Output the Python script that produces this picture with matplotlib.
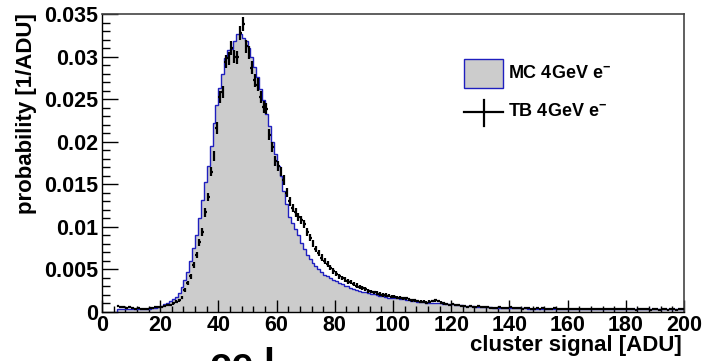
import matplotlib
matplotlib.use("Agg")
import matplotlib.pyplot as plt
import numpy as np
from matplotlib.lines import Line2D
from matplotlib.patches import Rectangle
from matplotlib.ticker import MultipleLocator

plt.rcParams['font.family'] = ['Liberation Sans', 'DejaVu Sans']
plt.rcParams['font.weight'] = 'bold'
plt.rcParams['mathtext.fontset'] = 'custom'
plt.rcParams['mathtext.rm'] = 'Liberation Sans:bold'
plt.rcParams['mathtext.bf'] = 'Liberation Sans:bold'

# 1 ADU bins from 5 to 200
bin_edges = np.arange(5, 201, 1)

# MC 4GeV e- (probability per ADU)
mc_prob = [
    0.0004, 0.0004, 0.0003, 0.0003, 0.0003,   # 5-9
    0.0003, 0.0003, 0.0003, 0.0003, 0.0003,   # 10-14
    0.0004, 0.0004, 0.0005, 0.0005, 0.0006,   # 15-19
    0.0007, 0.0009, 0.0011, 0.0013, 0.0015,   # 20-24
    0.0018, 0.0022, 0.0029, 0.0037, 0.0047,   # 25-29
    0.0060, 0.0075, 0.0091, 0.0110, 0.0131,   # 30-34
    0.0153, 0.0172, 0.0195, 0.0222, 0.0243,   # 35-39
    0.0263, 0.0280, 0.0298, 0.0308, 0.0309,   # 40-44
    0.0318, 0.0327, 0.0327, 0.0322, 0.0318,   # 45-49
    0.0310, 0.0300, 0.0288, 0.0276, 0.0262,   # 50-54
    0.0249, 0.0233, 0.0218, 0.0200, 0.0185,   # 55-59
    0.0172, 0.0160, 0.0142, 0.0127, 0.0112,   # 60-64
    0.0104, 0.0097, 0.0090, 0.0081, 0.0074,   # 65-69
    0.0067, 0.0062, 0.0057, 0.0054, 0.0050,   # 70-74
    0.0047, 0.0044, 0.0042, 0.0040, 0.0038,   # 75-79
    0.0036, 0.0034, 0.0033, 0.0031, 0.0030,   # 80-84
    0.0028, 0.0027, 0.0026, 0.0025, 0.0024,   # 85-89
    0.0023, 0.0022, 0.0021, 0.0021, 0.0020,   # 90-94
    0.0019, 0.0019, 0.0018, 0.0017, 0.0017,   # 95-99
    0.0016, 0.0016, 0.0015, 0.0015, 0.0014,   # 100-104
    0.0014, 0.0013, 0.0013, 0.0012, 0.0012,   # 105-109
    0.0012, 0.0011, 0.0011, 0.0011, 0.0010,   # 110-114
    0.0010, 0.0010, 0.0009, 0.0009, 0.0009,   # 115-119
    0.0009, 0.0008, 0.0008, 0.0008, 0.0007,   # 120-124
    0.0007, 0.0007, 0.0007, 0.0006, 0.0006,   # 125-129
    0.0006, 0.0006, 0.0006, 0.0006, 0.0005,   # 130-134
    0.0005, 0.0005, 0.0005, 0.0005, 0.0005,   # 135-139
    0.0005, 0.0005, 0.0005, 0.0005, 0.0005,   # 140-144
    0.0005, 0.0004, 0.0004, 0.0004, 0.0004,   # 145-149
    0.0004, 0.0004, 0.0004, 0.0004, 0.0004,   # 150-154
    0.0004, 0.0004, 0.0004, 0.0004, 0.0004,   # 155-159
    0.0004, 0.0004, 0.0004, 0.0004, 0.0004,   # 160-164
    0.0004, 0.0004, 0.0004, 0.0004, 0.0004,   # 165-169
    0.0003, 0.0003, 0.0003, 0.0003, 0.0003,   # 170-174
    0.0003, 0.0003, 0.0003, 0.0003, 0.0003,   # 175-179
    0.0003, 0.0003, 0.0003, 0.0003, 0.0003,   # 180-184
    0.0003, 0.0003, 0.0003, 0.0003, 0.0003,   # 185-189
    0.0003, 0.0003, 0.0003, 0.0003, 0.0003,   # 190-194
    0.0003, 0.0003, 0.0003, 0.0003, 0.0003,   # 195-199
]

# TB 4GeV e- (probability per ADU)
tb_prob = [
    0.0007, 0.0006, 0.0006, 0.0005, 0.0006,   # 5-9
    0.0005, 0.0004, 0.0005, 0.0004, 0.0004,   # 10-14
    0.0004, 0.0005, 0.0005, 0.0006, 0.0006,   # 15-19
    0.0006, 0.0007, 0.0008, 0.0008, 0.0010,   # 20-24
    0.0012, 0.0014, 0.0017, 0.0026, 0.0034,   # 25-29
    0.0042, 0.0055, 0.0067, 0.0082, 0.0094,   # 30-34
    0.0117, 0.0135, 0.0165, 0.0183, 0.0216,   # 35-39
    0.0252, 0.0258, 0.0294, 0.0298, 0.0310,   # 40-44
    0.0300, 0.0299, 0.0328, 0.0338, 0.0312,   # 45-49
    0.0305, 0.0287, 0.0272, 0.0267, 0.0253,   # 50-54
    0.0241, 0.0239, 0.0208, 0.0194, 0.0177,   # 55-59
    0.0172, 0.0165, 0.0155, 0.0140, 0.0130,   # 60-64
    0.0122, 0.0117, 0.0112, 0.0108, 0.0103,   # 65-69
    0.0094, 0.0087, 0.0080, 0.0074, 0.0069,   # 70-74
    0.0064, 0.0060, 0.0056, 0.0052, 0.0048,   # 75-79
    0.0045, 0.0042, 0.0040, 0.0038, 0.0036,   # 80-84
    0.0035, 0.0033, 0.0031, 0.0029, 0.0028,   # 85-89
    0.0027, 0.0025, 0.0024, 0.0023, 0.0022,   # 90-94
    0.0021, 0.0020, 0.0020, 0.0019, 0.0018,   # 95-99
    0.0018, 0.0017, 0.0017, 0.0016, 0.0016,   # 100-104
    0.0015, 0.0014, 0.0014, 0.0013, 0.0012,   # 105-109
    0.0012, 0.0011, 0.0012, 0.0013, 0.0014,   # 110-114
    0.0013, 0.0011, 0.0010, 0.0009, 0.0008,   # 115-119
    0.0009, 0.0008, 0.0008, 0.0007, 0.0007,   # 120-124
    0.0006, 0.0007, 0.0006, 0.0006, 0.0007,   # 125-129
    0.0006, 0.0006, 0.0006, 0.0005, 0.0005,   # 130-134
    0.0005, 0.0006, 0.0005, 0.0005, 0.0005,   # 135-139
    0.0006, 0.0005, 0.0005, 0.0005, 0.0004,   # 140-144
    0.0005, 0.0005, 0.0004, 0.0004, 0.0005,   # 145-149
    0.0004, 0.0005, 0.0004, 0.0004, 0.0004,   # 150-154
    0.0005, 0.0004, 0.0004, 0.0004, 0.0004,   # 155-159
    0.0004, 0.0003, 0.0004, 0.0004, 0.0003,   # 160-164
    0.0004, 0.0004, 0.0003, 0.0004, 0.0003,   # 165-169
    0.0003, 0.0003, 0.0004, 0.0003, 0.0003,   # 170-174
    0.0003, 0.0003, 0.0004, 0.0003, 0.0003,   # 175-179
    0.0003, 0.0003, 0.0003, 0.0002, 0.0003,   # 180-184
    0.0003, 0.0003, 0.0003, 0.0002, 0.0003,   # 185-189
    0.0003, 0.0002, 0.0003, 0.0003, 0.0002,   # 190-194
    0.0003, 0.0003, 0.0002, 0.0003, 0.0003,   # 195-199
]

# approx. number of TB events, used for Poisson error bars
tb_events = 50000

x_ticks = [0, 20, 40, 60, 80, 100, 120, 140, 160, 180, 200]
y_ticks = [0, 0.005, 0.01, 0.015, 0.02, 0.025, 0.03, 0.035]
y_ticklabels = ['0', '0.005', '0.01', '0.015', '0.02', '0.025', '0.03', '0.035']
legend_labels = [r'MC 4GeV e$^{\mathbf{-}}$', r'TB 4GeV e$^{\mathbf{-}}$']

mc = np.array(mc_prob)
tb = np.array(tb_prob)
centers = 0.5 * (bin_edges[:-1] + bin_edges[1:])
tb_err = np.sqrt(tb / tb_events)

W, H = 705, 361
fig = plt.figure(figsize=(W / 100, H / 100), dpi=100)
ax = fig.add_axes([102 / W, 49 / H, 582 / W, 298 / H])

fill_col = '#cccccc'
edge_col = '#1f1fbf'
ax.stairs(mc, bin_edges, fill=True, color=fill_col, zorder=1)
ax.stairs(mc, bin_edges, baseline=0, color=edge_col, lw=1.0, zorder=2)
ax.errorbar(centers, tb, xerr=0.5, yerr=tb_err, fmt='none',
            ecolor='black', elinewidth=1.6, capsize=0, zorder=3)

ax.set_xlim(0, 200)
ax.set_ylim(0, 0.035)
ax.set_xticks(x_ticks)
ax.set_xticklabels([str(v) for v in x_ticks])
ax.set_yticks(y_ticks)
ax.set_yticklabels(y_ticklabels)
ax.xaxis.set_minor_locator(MultipleLocator(4))
ax.yaxis.set_minor_locator(MultipleLocator(0.001))

ax.tick_params(axis='both', which='both', direction='in', top=False, right=False,
               colors='black', labelsize=15.5)
ax.tick_params(axis='y', which='major', length=11.5, width=1.0, pad=3)
ax.tick_params(axis='y', which='minor', length=5.8, width=1.0)
ax.tick_params(axis='x', which='major', length=8.6, width=1.0, pad=2)
ax.tick_params(axis='x', which='minor', length=4.3, width=1.0)
for lab in ax.get_xticklabels() + ax.get_yticklabels():
    lab.set_fontweight('bold')

for side in ['left', 'bottom']:
    ax.spines[side].set_linewidth(1.0)
    ax.spines[side].set_color('black')
for side in ['top', 'right']:
    ax.spines[side].set_linewidth(1.2)
    ax.spines[side].set_color('#444444')

fig.text(682 / W, (H - 346) / H, 'cluster signal [ADU]', ha='right',
         va='center', fontsize=16, fontweight='bold')
fig.text(27 / W, (H - 13) / H, 'probability [1/ADU]', rotation=90,
         ha='center', va='top', fontsize=16, fontweight='bold')

# legend, drawn by hand in figure pixels
fig.add_artist(Rectangle((464 / W, (H - 88) / H), 39 / W, 29 / H,
                         transform=fig.transFigure, facecolor=fill_col,
                         edgecolor=edge_col, lw=1.0))
fig.add_artist(Line2D([464 / W, 503 / W], [(H - 112) / H] * 2,
                      transform=fig.transFigure, color='black', lw=1.6))
fig.add_artist(Line2D([483.5 / W] * 2, [(H - 100) / H, (H - 126) / H],
                      transform=fig.transFigure, color='black', lw=1.6))
fig.text(508 / W, (H - 74) / H, legend_labels[0], ha='left', va='center',
         fontsize=13, fontweight='bold')
fig.text(508 / W, (H - 112) / H, legend_labels[1], ha='left', va='center',
         fontsize=13, fontweight='bold')

# partially visible caption below the plot
fig.text(210 / W, -0.04, 'ce l', fontsize=28, fontweight='bold',
         ha='left', va='baseline')

fig.savefig('out.png', dpi=100)
